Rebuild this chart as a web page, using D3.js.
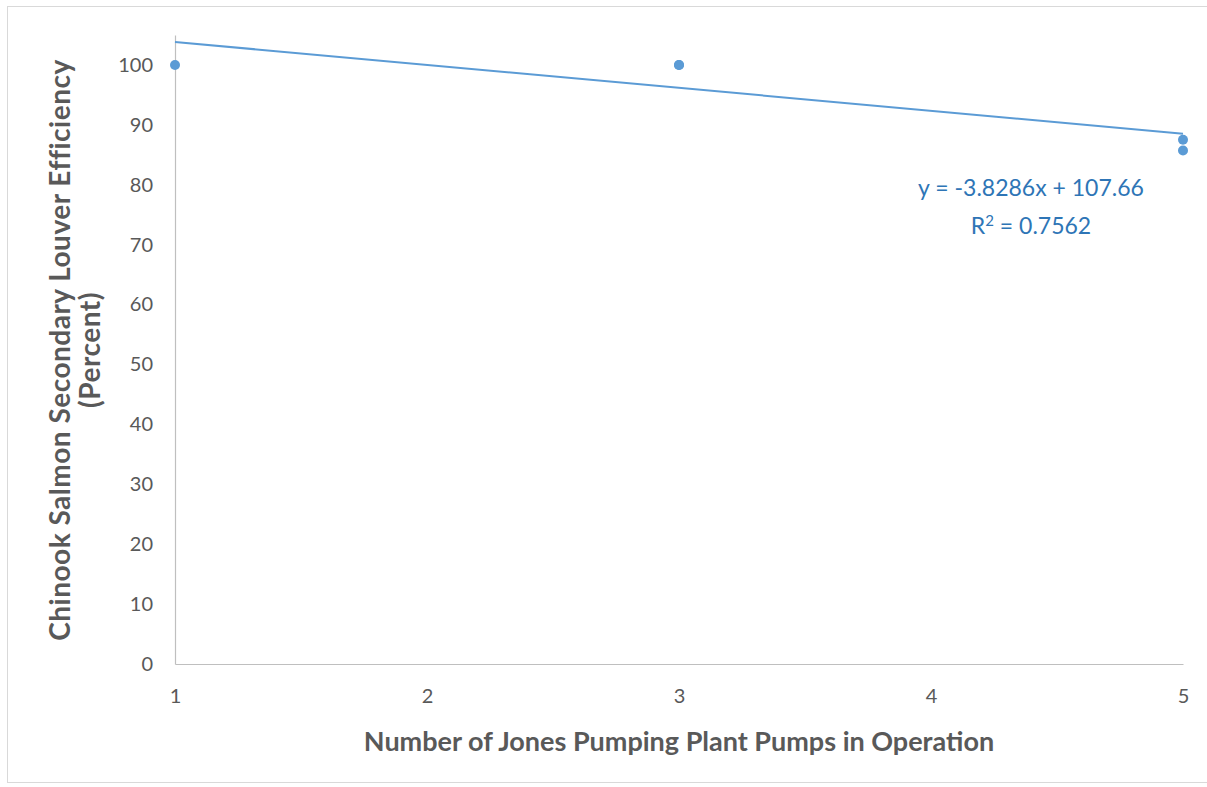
<!DOCTYPE html>
<html>
<head>
<meta charset="utf-8">
<script src="https://cdn.jsdelivr.net/npm/d3@7"></script>
<style>
  html, body { margin: 0; padding: 0; background: #fff; }
  svg { display: block; }
  text { font-family: Lato, "Open Sans", sans-serif; }
</style>
</head>
<body>
<svg id="chart" width="1207" height="787"></svg>
<script>
// Pumps in operation vs. secondary louver efficiency
const pumps = [1, 3, 3, 5, 5];
const efficiency = [100, 100, 100, 87.5, 85.71];
const xTicks = [1, 2, 3, 4, 5];
const yTicks = [0, 10, 20, 30, 40, 50, 60, 70, 80, 90, 100];
const trendSlope = -3.8286;
const trendIntercept = 107.66;
const rSquared = 0.7562;

const svg = d3.select("#chart");

// outer chart frame
svg.append("rect")
  .attr("x", 7.5).attr("y", 6.5)
  .attr("width", 1220).attr("height", 776)
  .attr("fill", "#fff")
  .attr("stroke", "#d9d9d9").attr("stroke-width", 1);

const x = d3.scaleLinear().domain([1, 5]).range([175, 1183]);
const y = d3.scaleLinear().domain([0, 105]).range([664, 35]);

const axisColor = "#bfbfbf";
const textColor = "#595959";

// y axis
const gy = svg.append("g").attr("transform", `translate(${x(1)},0)`)
  .call(d3.axisLeft(y).tickValues(yTicks).tickSize(0).tickPadding(22));
gy.select(".domain").attr("stroke", axisColor).attr("stroke-width", 1.2);
gy.selectAll("text").attr("fill", textColor).style("font-size", "20px");

// x axis
const gx = svg.append("g").attr("transform", `translate(0,${y(0)})`)
  .call(d3.axisBottom(x).tickValues(xTicks).tickFormat(d3.format("d")).tickSize(0).tickPadding(25));
gx.select(".domain").attr("stroke", axisColor).attr("stroke-width", 1.2);
gx.selectAll("text").attr("fill", textColor).style("font-size", "20px");

// linear trendline
const trend = [1, 5].map(v => [v, trendSlope * v + trendIntercept]);
svg.append("path")
  .datum(trend)
  .attr("fill", "none")
  .attr("stroke", "#5b9bd5")
  .attr("stroke-width", 2)
  .attr("d", d3.line().x(d => x(d[0])).y(d => y(d[1])));

// observations
svg.append("g").selectAll("circle")
  .data(pumps.map((p, i) => [p, efficiency[i]]))
  .join("circle")
  .attr("cx", d => x(d[0]))
  .attr("cy", d => y(d[1]))
  .attr("r", 5)
  .attr("fill", "#5b9bd5");

// trendline equation
svg.append("text")
  .attr("x", 1031).attr("y", 196)
  .attr("text-anchor", "middle")
  .attr("fill", "#2e75b6")
  .style("font-size", "23px")
  .text(`y = ${trendSlope}x + ${trendIntercept}`);
const r2 = svg.append("text")
  .attr("x", 1031).attr("y", 234)
  .attr("text-anchor", "middle")
  .attr("fill", "#2e75b6")
  .style("font-size", "23px");
r2.append("tspan").text("R");
r2.append("tspan").attr("dy", -8).style("font-size", "15px").text("2");
r2.append("tspan").attr("dy", 8).text(` = ${rSquared}`);

// axis titles
svg.append("text")
  .attr("x", 679).attr("y", 751)
  .attr("text-anchor", "middle")
  .attr("fill", textColor)
  .style("font-size", "27px").style("font-weight", "bold")
  .text("Number of Jones Pumping Plant Pumps in Operation");

const yt = svg.append("text")
  .attr("transform", "translate(70,350) rotate(-90)")
  .attr("text-anchor", "middle")
  .attr("fill", textColor)
  .style("font-size", "28px").style("font-weight", "bold")
  .style("letter-spacing", "0.5px");
yt.append("tspan").attr("x", 0).attr("y", 0).text("Chinook Salmon Secondary Louver Efficiency");
yt.append("tspan").attr("x", 0).attr("y", 30).text("(Percent)");
</script>
</body>
</html>
